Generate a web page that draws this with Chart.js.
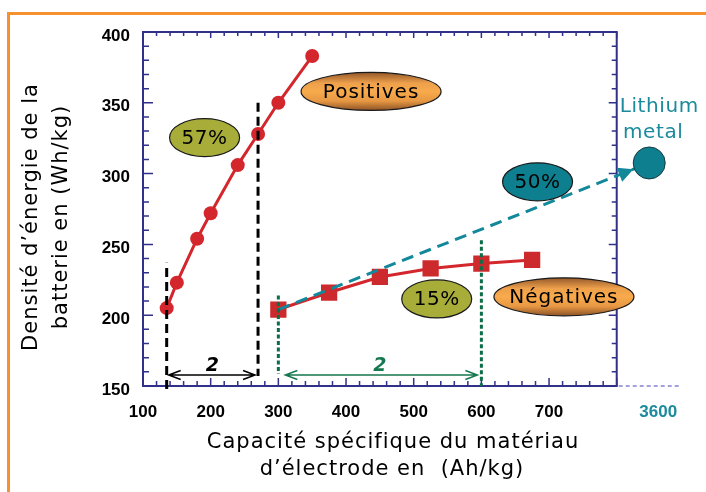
<!DOCTYPE html>
<html>
<head>
<meta charset="utf-8">
<script src="https://cdn.jsdelivr.net/npm/chart.js@4.4.1/dist/chart.umd.min.js"></script>
<style>
  html, body { margin: 0; padding: 0; background: #fff; }
  canvas { display: block; }
</style>
</head>
<body>
<canvas id="c" width="706" height="492"></canvas>
<script>
// Battery energy density vs. specific capacity of the electrode material
const POS_CAPACITY = [135, 150, 180, 200, 240, 270, 300, 350];     // Ah/kg
const POS_ENERGY   = [205, 223, 254, 272, 306, 328, 350, 383];     // Wh/kg
const NEG_CAPACITY = [300, 375, 450, 525, 600, 675];
const NEG_ENERGY   = [204, 216, 227, 233, 236.5, 239];
const LI_CAPACITY  = 3600;
const LI_ENERGY    = 307.5;
const X_TICKS = [100, 200, 300, 400, 500, 600, 700];
const Y_TICKS = [150, 200, 250, 300, 350, 400];
const X_RANGE = [100, 800];   // boxed part of the capacity axis
const Y_RANGE = [150, 400];
// capacity doubled on each side, and the resulting energy gains
const POS_SPAN = [135, 270];
const NEG_SPAN = [300, 600];
const SPAN_FACTOR = '2';
const GAIN_POS = '57%';
const GAIN_NEG = '15%';
const GAIN_LI  = '50%';

// the capacity axis is broken after 800: the 3600 Ah/kg point sits here
const BREAK_AT = 848;
const AXIS_END = 900;

const RED = '#d3272d';
const NAVY = '#31318a';
const TEAL = '#0e7f8f';
const TEAL_TXT = '#1a8a9c';
const OLIVE = '#a8ad3a';
const GREEN = '#0b6e47';
const COMIC = '"DejaVu Sans", sans-serif';

// annotation boxes, placed in data units
const NOTES = [
  { x: 191, y: 325.4, rx: 35, ry: 19, kind: 'olive',  text: GAIN_POS },
  { x: 437, y: 358,   rx: 70, ry: 19, kind: 'orange', text: 'Positives' },
  { x: 534, y: 211.5, rx: 35, ry: 19, kind: 'olive',  text: GAIN_NEG },
  { x: 722, y: 213,   rx: 70, ry: 19, kind: 'orange', text: 'Négatives' },
  { x: 683, y: 294.2, rx: 35, ry: 19, kind: 'teal',   text: GAIN_LI }
];

const pts = (xs, ys) => xs.map((x, i) => ({ x, y: ys[i] }));

function drawFrame(chart) {
  const { ctx, chartArea: a, scales: { x, y } } = chart;
  const L = x.getPixelForValue(X_RANGE[0]), R = x.getPixelForValue(X_RANGE[1]);
  ctx.save();
  ctx.strokeStyle = NAVY;
  ctx.lineWidth = 2;
  ctx.strokeRect(L, a.top, R - L, a.bottom - a.top);
  ctx.lineWidth = 1.5;
  ctx.beginPath();
  for (let v = X_RANGE[0]; v <= X_RANGE[1]; v += 20) {
    const p = x.getPixelForValue(v);
    const major = v % 100 === 0;
    ctx.moveTo(p, a.bottom); ctx.lineTo(p, a.bottom - (major ? 8 : 5));
    ctx.moveTo(p, a.top);    ctx.lineTo(p, a.top + (major ? 6 : 4));
  }
  for (let v = Y_RANGE[0]; v <= Y_RANGE[1]; v += 10) {
    const p = y.getPixelForValue(v);
    const major = v % 50 === 0;
    ctx.moveTo(L, p); ctx.lineTo(L + (major ? 10 : 6), p);
    ctx.moveTo(R, p); ctx.lineTo(R - (major ? 8 : 5), p);
  }
  ctx.stroke();
  // continuation of the capacity axis towards the broken section
  ctx.setLineDash([4, 3]);
  ctx.strokeStyle = '#8383d4';
  ctx.lineWidth = 1.5;
  ctx.beginPath();
  ctx.moveTo(R + 2, a.bottom);
  ctx.lineTo(R + 64, a.bottom);
  ctx.stroke();
  ctx.restore();
}

function ellipseNote(chart, n) {
  const { ctx, scales: { x, y } } = chart;
  const cx = x.getPixelForValue(n.x), cy = y.getPixelForValue(n.y);
  ctx.save();
  ctx.beginPath();
  ctx.ellipse(cx, cy, n.rx, n.ry, 0, 0, Math.PI * 2);
  if (n.kind === 'orange') {
    const g = ctx.createLinearGradient(0, cy - n.ry, 0, cy + n.ry);
    g.addColorStop(0, '#94582a');
    g.addColorStop(0.28, '#eea04b');
    g.addColorStop(0.5, '#f8aa4c');
    g.addColorStop(0.75, '#e79843');
    g.addColorStop(1, '#8c5226');
    ctx.fillStyle = g;
  } else {
    ctx.fillStyle = n.kind === 'teal' ? TEAL : OLIVE;
  }
  ctx.fill();
  ctx.lineWidth = 1.2;
  ctx.strokeStyle = '#1a1a1a';
  ctx.stroke();
  ctx.fillStyle = '#000';
  ctx.font = '20px ' + COMIC;
  ctx.letterSpacing = n.kind === 'orange' ? '1px' : '0.5px';
  ctx.textAlign = 'center';
  ctx.textBaseline = 'middle';
  ctx.fillText(n.text, cx, cy + 1);
  ctx.restore();
}

function vLine(ctx, px, y1, y2, color, dash) {
  ctx.save();
  ctx.strokeStyle = color;
  ctx.lineWidth = 3;
  ctx.setLineDash(dash);
  ctx.beginPath();
  ctx.moveTo(px, y1);
  ctx.lineTo(px, y2);
  ctx.stroke();
  ctx.restore();
}

function dblArrow(ctx, x1, x2, yy, color) {
  ctx.save();
  ctx.strokeStyle = color;
  ctx.lineWidth = 1.5;
  ctx.beginPath();
  ctx.moveTo(x1, yy); ctx.lineTo(x2, yy);
  ctx.moveTo(x1 + 12, yy - 4.5); ctx.lineTo(x1, yy); ctx.lineTo(x1 + 12, yy + 4.5);
  ctx.moveTo(x2 - 12, yy - 4.5); ctx.lineTo(x2, yy); ctx.lineTo(x2 - 12, yy + 4.5);
  ctx.stroke();
  ctx.restore();
}

const notesPlugin = {
  id: 'notes',
  beforeDraw(chart) {
    const { ctx, width, height } = chart;
    ctx.save();
    ctx.fillStyle = '#fff';
    ctx.fillRect(0, 0, width, height);
    ctx.strokeStyle = '#f5922f';
    ctx.lineWidth = 3;
    ctx.beginPath();
    ctx.moveTo(8.5, height);
    ctx.lineTo(8.5, 13.5);
    ctx.lineTo(width, 13.5);
    ctx.stroke();
    ctx.restore();
  },
  beforeDatasetsDraw(chart) {
    drawFrame(chart);
  },
  afterDatasetsDraw(chart) {
    const { ctx, chartArea: a, scales: { x, y } } = chart;

    // arrow head of the lithium trend
    const sx = x.getPixelForValue(NEG_CAPACITY[0]), sy = y.getPixelForValue(NEG_ENERGY[0]);
    const lx = x.getPixelForValue(BREAK_AT), ly = y.getPixelForValue(LI_ENERGY);
    const dx = lx - sx, dy = ly - sy, len = Math.hypot(dx, dy);
    const ux = dx / len, uy = dy / len;
    const tipX = lx - ux * 17, tipY = ly - uy * 17;
    const bx = tipX - ux * 15, by = tipY - uy * 15;
    ctx.save();
    ctx.fillStyle = '#12889a';
    ctx.beginPath();
    ctx.moveTo(tipX, tipY);
    ctx.lineTo(bx - uy * 7.5, by + ux * 7.5);
    ctx.lineTo(bx + uy * 7.5, by - ux * 7.5);
    ctx.closePath();
    ctx.fill();
    ctx.restore();

    // doubling brackets
    const p1 = x.getPixelForValue(POS_SPAN[0]), p2 = x.getPixelForValue(POS_SPAN[1]);
    vLine(ctx, p1, a.bottom + 3, y.getPixelForValue(237), '#000', [9, 5]);
    vLine(ctx, p2, y.getPixelForValue(350), a.bottom - 10, '#000', [9, 5]);
    const n1 = x.getPixelForValue(NEG_SPAN[0]), n2 = x.getPixelForValue(NEG_SPAN[1]);
    vLine(ctx, n1, y.getPixelForValue(214), a.bottom - 12, GREEN, [4, 2.5]);
    vLine(ctx, n2, y.getPixelForValue(253), a.bottom, GREEN, [4, 2.5]);

    const ay = a.bottom - 11;
    dblArrow(ctx, p1 + 2, p2 - 3, ay, '#000');
    dblArrow(ctx, n1 + 7, n2 - 4, ay, '#16784e');
    ctx.save();
    ctx.font = 'italic bold 19px ' + COMIC;
    ctx.textAlign = 'center';
    ctx.textBaseline = 'middle';
    ctx.fillStyle = '#000';
    ctx.fillText(SPAN_FACTOR, (p1 + p2) / 2, ay - 9);
    ctx.fillStyle = '#16784e';
    ctx.fillText(SPAN_FACTOR, (n1 + n2) / 2, ay - 9);
    ctx.restore();

    NOTES.forEach(n => ellipseNote(chart, n));

    // lithium metal caption and its value on the broken axis
    ctx.save();
    ctx.fillStyle = TEAL_TXT;
    ctx.font = '20px ' + COMIC;
    ctx.letterSpacing = '0.6px';
    ctx.textAlign = 'center';
    ctx.textBaseline = 'middle';
    ctx.fillText('Lithium', lx + 10, ly - 56);
    ctx.fillText('metal', lx + 4, ly - 30);
    ctx.letterSpacing = '0px';
    ctx.font = 'bold 17px "Liberation Sans", Arial, sans-serif';
    ctx.fillText(String(LI_CAPACITY), lx + 9, a.bottom + 26);
    ctx.restore();

    // axis titles
    ctx.save();
    ctx.fillStyle = '#000';
    ctx.font = '21px ' + COMIC;
    ctx.letterSpacing = '1px';
    ctx.textAlign = 'center';
    ctx.textBaseline = 'middle';
    ctx.fillText('Capacité spécifique du matériau', 393, 443);
    ctx.fillText('d\u2019électrode en  (Ah/kg)', 392, 470);
    ctx.translate(0, 217);
    ctx.rotate(-Math.PI / 2);
    ctx.fillText('Densité d\u2019énergie de la', 0, 32);
    ctx.fillText('batterie en (Wh/kg)', 0, 62);
    ctx.restore();
  }
};

const tickFont = { family: '"Liberation Sans", Arial, sans-serif', size: 17, weight: 'bold' };

new Chart(document.getElementById('c'), {
  type: 'scatter',
  data: {
    datasets: [
      {
        label: 'Lithium metal',
        data: [{ x: BREAK_AT, y: LI_ENERGY, capacity: LI_CAPACITY }],
        pointRadius: 16,
        pointBackgroundColor: TEAL,
        pointBorderColor: '#153a40',
        pointBorderWidth: 1,
        clip: false,
        order: 0
      },
      {
        label: 'Tendance lithium',
        data: [{ x: NEG_CAPACITY[0], y: NEG_ENERGY[0] }, { x: BREAK_AT, y: LI_ENERGY }],
        showLine: true,
        borderColor: '#12889a',
        borderWidth: 3,
        borderDash: [12, 7],
        pointRadius: 0,
        clip: false,
        order: 1
      },
      {
        label: 'Négatives',
        data: pts(NEG_CAPACITY, NEG_ENERGY),
        showLine: true,
        borderColor: RED,
        borderWidth: 3,
        pointStyle: 'rect',
        pointRadius: 11.5,
        pointBackgroundColor: '#cc2a2c',
        pointBorderColor: '#cc2a2c',
        pointBorderWidth: 0,
        order: 2
      },
      {
        label: 'Positives',
        data: pts(POS_CAPACITY, POS_ENERGY),
        showLine: true,
        borderColor: RED,
        borderWidth: 3,
        pointStyle: 'circle',
        pointRadius: 7,
        pointBackgroundColor: RED,
        pointBorderColor: RED,
        pointBorderWidth: 0,
        order: 3
      }
    ]
  },
  options: {
    responsive: false,
    animation: false,
    layout: { padding: { top: 32, right: 21.6, left: 0, bottom: 0 } },
    plugins: { legend: { display: false }, tooltip: { enabled: false } },
    scales: {
      x: {
        type: 'linear',
        min: X_RANGE[0],
        max: AXIS_END,
        afterBuildTicks: s => { s.ticks = X_TICKS.map(v => ({ value: v })); },
        afterFit: s => { s.height = 106; },
        grid: { display: false, drawTicks: false },
        border: { display: false },
        ticks: { font: tickFont, color: '#000', padding: 16, maxRotation: 0, autoSkip: false }
      },
      y: {
        type: 'linear',
        min: Y_RANGE[0],
        max: Y_RANGE[1],
        afterBuildTicks: s => { s.ticks = Y_TICKS.map(v => ({ value: v })); },
        afterFit: s => { s.width = 143; },
        grid: { display: false, drawTicks: false },
        border: { display: false },
        ticks: { font: tickFont, color: '#000', padding: 13, labelOffset: 4, autoSkip: false }
      }
    }
  },
  plugins: [notesPlugin]
});
</script>
</body>
</html>
